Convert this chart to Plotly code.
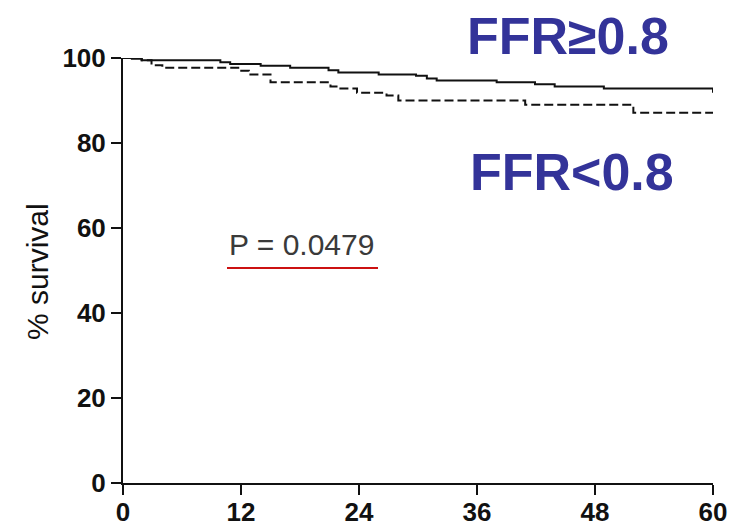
import plotly.graph_objects as go

# Kaplan-Meier step data (months, % survival)
ffr_high_t = [0, 0.9, 1.9, 9.9, 10.9, 14.0, 17.0, 20.9, 21.9, 26.0, 29.8, 30.9, 31.9, 38.0, 41.9, 43.9, 48.9, 60.0]
ffr_high_s = [100, 99.8, 99.5, 99.0, 98.6, 98.2, 97.7, 97.1, 96.6, 96.1, 95.8, 95.2, 94.7, 94.3, 93.8, 93.3, 92.8, 91.8]

ffr_low_t = [0, 1.9, 2.9, 4.0, 11.9, 12.8, 15.0, 21.1, 21.9, 23.8, 26.8, 28.0, 40.9, 51.9, 60.0]
ffr_low_s = [100, 99.5, 98.3, 97.7, 97.0, 96.1, 94.3, 93.3, 92.8, 91.8, 91.2, 90.0, 89.0, 87.1, 87.1]

x_ticks = [0, 12, 24, 36, 48, 60]
y_ticks = [0, 20, 40, 60, 80, 100]

label_high = "FFR≥0.8"
label_low = "FFR<0.8"
p_text = "P = 0.0479"
y_title = "% survival"

fig = go.Figure()
fig.add_trace(go.Scatter(
    x=ffr_high_t, y=ffr_high_s, mode="lines", line_shape="hv",
    line=dict(color="#111111", width=2), cliponaxis=False, showlegend=False,
))
fig.add_trace(go.Scatter(
    x=ffr_low_t, y=ffr_low_s, mode="lines", line_shape="hv",
    line=dict(color="#111111", width=2, dash="9px,4px"), cliponaxis=False, showlegend=False,
))

tick_font = dict(family="Liberation Sans, Arial", size=26, color="#111111", weight="bold")

fig.update_xaxes(
    range=[0, 60], tickvals=x_ticks, ticktext=[str(v) for v in x_ticks],
    showline=True, linecolor="#111111", linewidth=2,
    ticks="outside", ticklen=10, tickwidth=2, tickcolor="#111111",
    showgrid=False, zeroline=False, tickfont=tick_font, automargin=False,
    ticklabelstandoff=-5,
)
fig.update_yaxes(
    range=[0, 100], tickvals=y_ticks, ticktext=[str(v) for v in y_ticks],
    showline=True, linecolor="#111111", linewidth=2,
    ticks="outside", ticklen=10, tickwidth=2, tickcolor="#111111",
    showgrid=False, zeroline=False, tickfont=tick_font, automargin=False,
)

blue_font = dict(family="Liberation Sans, Arial", size=52, color="#333399", weight="bold")

fig.add_annotation(text=label_high, xref="paper", yref="paper",
                   x=(568 - 123) / 590, y=(483 - 36) / 425,
                   xanchor="center", yanchor="middle", showarrow=False, font=blue_font)
fig.add_annotation(text=label_low, xref="paper", yref="paper",
                   x=(572 - 123) / 590, y=(483 - 172) / 425,
                   xanchor="center", yanchor="middle", showarrow=False, font=blue_font)
fig.add_annotation(text=p_text, xref="paper", yref="paper",
                   x=(301 - 123) / 590, y=(483 - 244) / 425,
                   xanchor="center", yanchor="middle", showarrow=False,
                   font=dict(family="Liberation Sans, Arial", size=30, color="#3a3a3a"))
fig.add_annotation(text=y_title, xref="paper", yref="paper",
                   x=(37 - 123) / 590, y=(483 - 272) / 425, textangle=-90,
                   xanchor="center", yanchor="middle", showarrow=False,
                   font=dict(family="Liberation Sans, Arial", size=30, color="#111111"))

# red underline beneath the p-value
fig.add_shape(type="line", xref="paper", yref="paper",
              x0=(227 - 123) / 590, x1=(378 - 123) / 590,
              y0=(483 - 268) / 425, y1=(483 - 268) / 425,
              line=dict(color="#cc1111", width=2))

fig.update_layout(
    width=739, height=530,
    margin=dict(l=123, r=26, t=58, b=47, autoexpand=False),
    plot_bgcolor="white", paper_bgcolor="white",
)

fig.write_html("out.html")
